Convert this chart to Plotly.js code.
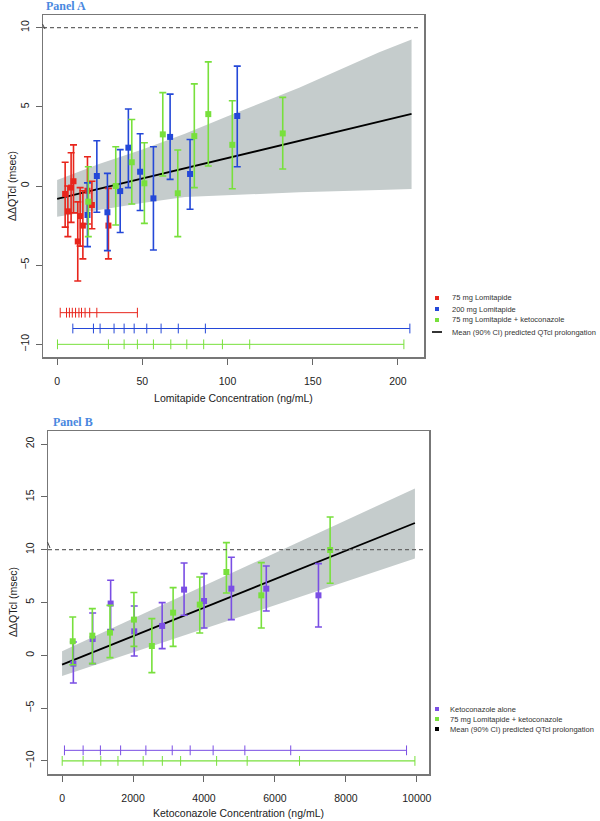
<!DOCTYPE html>
<html>
<head>
<meta charset="utf-8">
<script src="https://cdn.plot.ly/plotly-3.0.1.min.js"></script>
<style>html,body{margin:0;padding:0;background:#fff}#chart{width:600px;height:821px}</style>
</head>
<body>
<div id="chart"></div>
<script>
// ---------- Panel A data (Lomitapide concentration, ng/mL) ----------
const seriesNamesA = ["75 mg Lomitapide", "200 mg Lomitapide", "75 mg Lomitapide + ketoconazole", "Mean (90% CI) predicted QTcl prolongation"];

const redX  = [4.7, 6.3, 8.2, 9.6, 12.1, 13.5, 15.1, 17.8, 20.4, 30.1];
const redY  = [-0.5, -1.6, -0.1, 0.3, -3.5, -1.9, -2.5, -0.3, -1.2, -2.5];
const redLo = [-2.6, -3.2, -2.3, -1.7, -6.0, -3.8, -4.6, -2.4, -2.7, -4.6];
const redHi = [1.5, 0.0, 2.1, 2.6, -1.0, -0.1, -0.3, 1.85, 0.3, -0.15];

const blueX  = [17.8, 23.3, 29.5, 37.0, 41.8, 48.7, 56.5, 66.3, 78.0, 105.7];
const blueY  = [-1.83, 0.63, -1.66, -0.32, 2.42, 0.9, -0.78, 3.1, 0.76, 4.42];
const blueLo = [-3.83, -1.66, -4.08, -2.94, -0.1, -1.55, -4.04, 0.42, -1.47, 1.22];
const blueHi = [0.2, 2.86, 0.8, 2.3, 4.86, 3.3, 2.48, 5.8, 2.94, 7.57];

const greenAX  = [18.3, 34.4, 43.8, 51.2, 62.0, 70.8, 80.5, 88.7, 102.8, 132.4];
const greenAY  = [-0.99, 0.0, 1.5, 0.17, 3.26, -0.46, 3.15, 4.54, 2.6, 3.32];
const greenALo = [-3.2, -2.46, -1.14, -2.36, 0.63, -3.2, -0.1, 1.26, -0.17, 1.07];
const greenAHi = [1.22, 2.48, 4.2, 2.73, 5.9, 2.27, 6.45, 7.84, 5.38, 5.6];

// concentration bin boundaries (rug lines at bottom)
const redBins   = [1.8, 5.5, 7.2, 8.9, 10.8, 12.8, 14.3, 16.4, 19.1, 23.3, 47.1];
const blueBins  = [9.2, 21.3, 25.2, 33.4, 39.3, 45.2, 52.6, 61, 71.1, 87, 207];
const greenABins= [0.2, 30.1, 39.3, 47.1, 56.5, 66.7, 76.1, 86, 97, 113, 203.5];

// model prediction
const bandAX    = [0, 25, 50, 75, 100, 142, 189, 208];
const bandAUp   = [0.38, 1.4, 2.3, 3.3, 4.4, 6.2, 8.45, 9.25];
const bandALo   = [-1.94, -1.5, -1.07, -0.7, -0.58, -0.4, -0.25, -0.19];
const meanA     = [-0.82, -0.17, 0.47, 1.12, 1.76, 2.85, 4.06, 4.55];

const xTicksA = [0, 50, 100, 150, 200];
const yTicksA = [-10, -5, 0, 5, 10];

// ---------- Panel B data (Ketoconazole concentration, ng/mL) ----------
const seriesNamesB = ["Ketoconazole alone", "75 mg Lomitapide + ketoconazole", "Mean (90% CI) predicted QTcl prolongation"];

const purpleX  = [318, 862, 1369, 2034, 2821, 3439, 4002, 4772, 5756, 7227];
const purpleY  = [-0.79, 1.54, 4.9, 2.27, 2.78, 6.22, 5.14, 6.31, 6.31, 5.68];
const purpleLo = [-2.62, -0.79, 2.43, -0.07, 0.63, 3.79, 2.59, 3.38, 4.2, 2.68];
const purpleHi = [1.26, 4.0, 7.1, 4.67, 4.99, 8.74, 7.73, 9.28, 8.46, 8.68];

const greenBX  = [300, 853, 1350, 2025, 2531, 3130, 3881, 4632, 5616, 7556];
const greenBY  = [1.33, 1.86, 2.15, 3.38, 0.88, 4.04, 4.8, 7.89, 5.68, 9.97];
const greenBLo = [-0.9, -0.79, -0.22, 0.85, -1.64, 0.85, 2.11, 5.9, 2.59, 6.82];
const greenBHi = [3.63, 4.42, 4.73, 5.94, 3.47, 6.41, 7.41, 10.67, 8.78, 13.1];

const purpleBins = [67, 593, 1080, 1650, 2362, 3105, 3611, 4258, 5152, 6445, 9710];
const greenBBins = [3, 593, 1091, 1575, 2286, 2826, 3341, 4356, 5217, 6693, 9946];

const bandBX  = [0, 2000, 4000, 6000, 8000, 9946];
const bandBUp = [0.38, 3.48, 6.58, 9.68, 12.78, 15.8];
const bandBLo = [-1.96, 0.28, 2.51, 4.75, 6.98, 9.16];
const meanB   = [-0.88, 1.82, 4.51, 7.21, 9.9, 12.53];

const xTicksB = [0, 2000, 4000, 6000, 8000, 10000];
const xTickTextB = ["0", "2000", "4000", "6000", "8000", "10000"];
const yTicksB = [-10, -5, 0, 5, 10, 15, 20];

const threshold = 10;
const rugLevelsA = [-8, -9, -10];
const rugLevelsB = [-9, -10];

// ---------- styling ----------
const RED = '#e8251c', BLUE = '#2448d8', GREEN = '#78e03c', PURPLE = '#7a4ee4';
const BAND = '#c5cccc';
const W = 600, H = 821;
const px = v => v / W, py = v => 1 - v / H;

function errTrace(x, y, lo, hi, color, xa, ya) {
  return {
    type: 'scatter', mode: 'markers', x: x, y: y, xaxis: xa, yaxis: ya, showlegend: false,
    marker: {symbol: 'square', size: 6, color: color},
    error_y: {type: 'data', symmetric: false,
      array: hi.map((h, i) => h - y[i]), arrayminus: lo.map((l, i) => y[i] - l),
      color: color, thickness: 1.6, width: 3.5},
    hoverinfo: 'x+y'
  };
}
function rugTrace(bins, level, color, xa, ya, w) {
  return {
    type: 'scatter', mode: 'lines+markers', x: bins, y: bins.map(() => level), xaxis: xa, yaxis: ya,
    showlegend: false, line: {color: color, width: w || 1},
    marker: {symbol: 'line-ns-open', size: 7, line: {color: color, width: 1}}, hoverinfo: 'skip'
  };
}
function bandTraces(bx, up, lo, mean, xa, ya) {
  return [
    {type: 'scatter', mode: 'lines', x: bx, y: lo, xaxis: xa, yaxis: ya, line: {width: 0, color: BAND}, showlegend: false, hoverinfo: 'skip'},
    {type: 'scatter', mode: 'lines', x: bx, y: up, xaxis: xa, yaxis: ya, fill: 'tonexty', fillcolor: BAND, line: {width: 0, color: BAND}, showlegend: false, hoverinfo: 'skip'},
    {type: 'scatter', mode: 'lines', x: bx, y: mean, xaxis: xa, yaxis: ya, line: {width: 1.8, color: '#000'}, showlegend: false}
  ];
}

const data = [
  ...bandTraces(bandAX, bandAUp, bandALo, meanA, 'x', 'y'),
  rugTrace(redBins, rugLevelsA[0], RED, 'x', 'y'),
  rugTrace(blueBins, rugLevelsA[1], BLUE, 'x', 'y'),
  rugTrace(greenABins, rugLevelsA[2], GREEN, 'x', 'y'),
  errTrace(redX, redY, redLo, redHi, RED, 'x', 'y'),
  errTrace(blueX, blueY, blueLo, blueHi, BLUE, 'x', 'y'),
  errTrace(greenAX, greenAY, greenALo, greenAHi, GREEN, 'x', 'y'),
  ...bandTraces(bandBX, bandBUp, bandBLo, meanB, 'x2', 'y2'),
  rugTrace(purpleBins, rugLevelsB[0], PURPLE, 'x2', 'y2'),
  rugTrace(greenBBins, rugLevelsB[1], GREEN, 'x2', 'y2', 1.4),
  errTrace(purpleX, purpleY, purpleLo, purpleHi, PURPLE, 'x2', 'y2'),
  errTrace(greenBX, greenBY, greenBLo, greenBHi, GREEN, 'x2', 'y2')
];

const FONT = 'Liberation Sans, Arial, sans-serif';
const axisCommon = {
  showgrid: false, zeroline: false, showline: true, mirror: true,
  linecolor: '#777', linewidth: 1.5, ticks: 'outside', ticklen: 6, tickwidth: 1, tickcolor: '#666',
  tickfont: {family: FONT, size: 10.5, color: '#222'}
};

const layout = {
  width: W, height: H, margin: {l: 0, r: 0, t: 0, b: 0},
  paper_bgcolor: '#fff', plot_bgcolor: '#fff', showlegend: false,
  font: {family: FONT},
  xaxis: Object.assign({}, axisCommon, {domain: [px(43), px(424)], anchor: 'y', range: [-8.3, 215.3],
    tickvals: xTicksA, ticklabelstandoff: 8,
    title: {text: 'Lomitapide Concentration (ng/mL)', font: {family: FONT, size: 10.5, color: '#222'}, standoff: 8}}),
  yaxis: Object.assign({}, axisCommon, {domain: [py(357), py(15)], anchor: 'x', range: [-10.8, 10.8],
    tickvals: yTicksA, tickangle: -90, ticklabelstandoff: 2}),
  xaxis2: Object.assign({}, axisCommon, {domain: [px(48), px(429)], anchor: 'y2', range: [-397, 10343],
    tickvals: xTicksB, ticktext: xTickTextB, ticklabelstandoff: 8,
    title: {text: 'Ketoconazole Concentration (ng/mL)', font: {family: FONT, size: 10.5, color: '#222'}, standoff: 6}}),
  yaxis2: Object.assign({}, axisCommon, {domain: [py(774), py(431)], anchor: 'x2', range: [-11.24, 21.24],
    tickvals: yTicksB, tickangle: -90, ticklabelstandoff: 2}),
  shapes: [
    {type: 'line', xref: 'x domain', yref: 'y', x0: 0, x1: 0.99, y0: threshold, y1: threshold, line: {color: '#666', width: 1.2, dash: '4px,3px'}},
    {type: 'line', xref: 'x2 domain', yref: 'y2', x0: 0, x1: 0.99, y0: threshold, y1: threshold, line: {color: '#666', width: 1.2, dash: '4px,3px'}},
    {type: 'line', xref: 'paper', yref: 'paper', x0: px(42.5), x1: px(45), y0: py(24), y1: py(29), line: {color: '#444', width: 1}},
    {type: 'line', xref: 'paper', yref: 'paper', x0: px(47.5), x1: px(50), y0: py(542), y1: py(548), line: {color: '#444', width: 1}},
    // legend A symbols
    {type: 'rect', xref: 'paper', yref: 'paper', x0: px(435), x1: px(439), y0: py(296), y1: py(300), fillcolor: RED, line: {width: 0}},
    {type: 'rect', xref: 'paper', yref: 'paper', x0: px(435), x1: px(439), y0: py(307), y1: py(311), fillcolor: BLUE, line: {width: 0}},
    {type: 'rect', xref: 'paper', yref: 'paper', x0: px(435), x1: px(439), y0: py(318), y1: py(322), fillcolor: GREEN, line: {width: 0}},
    {type: 'line', xref: 'paper', yref: 'paper', x0: px(432), x1: px(442), y0: py(332), y1: py(332), line: {color: '#000', width: 1.6}},
    // legend B symbols
    {type: 'rect', xref: 'paper', yref: 'paper', x0: px(435), x1: px(439), y0: py(707), y1: py(711), fillcolor: PURPLE, line: {width: 0}},
    {type: 'rect', xref: 'paper', yref: 'paper', x0: px(435), x1: px(439), y0: py(717), y1: py(721), fillcolor: GREEN, line: {width: 0}},
    {type: 'rect', xref: 'paper', yref: 'paper', x0: px(435), x1: px(439), y0: py(727), y1: py(731), fillcolor: '#000', line: {width: 0}}
  ],
  annotations: [
    {text: '<b>Panel A</b>', xref: 'paper', yref: 'paper', x: px(44), y: py(6), xanchor: 'left', yanchor: 'middle', showarrow: false,
      font: {family: 'Liberation Serif, DejaVu Serif, serif', size: 12, color: '#4a88e0'}},
    {text: '<b>Panel B</b>', xref: 'paper', yref: 'paper', x: px(51), y: py(422), xanchor: 'left', yanchor: 'middle', showarrow: false,
      font: {family: 'Liberation Serif, DejaVu Serif, serif', size: 12, color: '#4a88e0'}},
    {text: 'ΔΔQTcl (msec)', xref: 'paper', yref: 'paper', x: px(12), y: py(186), textangle: -90, showarrow: false,
      xanchor: 'center', yanchor: 'middle', font: {family: FONT, size: 10.5, color: '#222'}},
    {text: 'ΔΔQTcl (msec)', xref: 'paper', yref: 'paper', x: px(13), y: py(602), textangle: -90, showarrow: false,
      xanchor: 'center', yanchor: 'middle', font: {family: FONT, size: 10.5, color: '#222'}},
    ...seriesNamesA.map((t, i) => ({text: t, xref: 'paper', yref: 'paper', x: px(450), y: py([298, 309, 320, 332][i]),
      xanchor: 'left', yanchor: 'middle', showarrow: false, font: {family: FONT, size: 7.5, color: '#333'}})),
    ...seriesNamesB.map((t, i) => ({text: t, xref: 'paper', yref: 'paper', x: px(448), y: py([709, 719, 729][i]),
      xanchor: 'left', yanchor: 'middle', showarrow: false, font: {family: FONT, size: 7.5, color: '#333'}}))
  ]
};

Plotly.newPlot('chart', data, layout, {staticPlot: true, displayModeBar: false});
</script>
</body>
</html>
